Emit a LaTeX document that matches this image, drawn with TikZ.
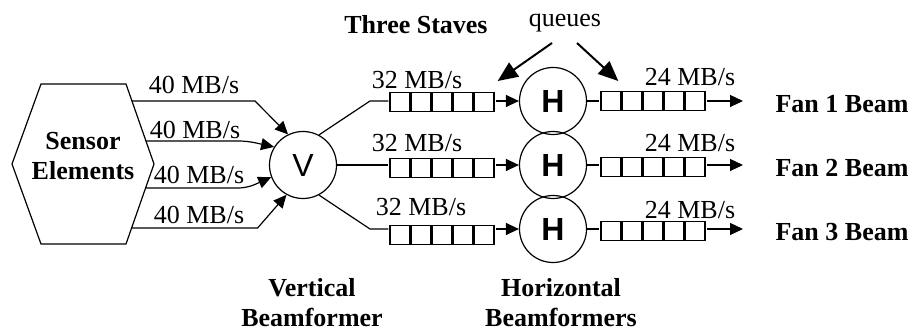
\documentclass[tikz,border=0pt]{standalone}
\usepackage{fontspec}
\setmainfont{Liberation Serif}
\newfontfamily\arialfont{Liberation Sans}
\usetikzlibrary{arrows.meta, matrix, positioning, calc}

\begin{document}
\begin{tikzpicture}[x=1pt,y=-1pt,line width=1.2pt,
rate/.style={font=\fontsize{26}{28}\selectfont, inner sep=0pt},
title/.style={font=\fontsize{26}{30}\selectfont\bfseries, align=center, inner sep=0pt},
bf/.style={circle,draw,minimum size=67pt,inner sep=0pt},
cell/.style={rectangle,draw=black,line width=1.8pt,minimum width=20.4pt,minimum height=19pt},
queue/.style={
        matrix of nodes,nodes={cell},row sep=-\pgflinewidth,column sep=-\pgflinewidth,
        nodes in empty cells,inner sep=0pt,ampersand replacement=\&
    },
flow/.style={-{Triangle[length=13pt,width=12pt]}},
pointer/.style={line width=2pt,-{Triangle[length=20pt,width=17pt]}}]

\useasboundingbox (0,0) rectangle (913,331);

% sensor hexagon
\coordinate (h1) at (41,84);
\coordinate (h2) at (126,84);
\coordinate (h3) at (154,164);
\coordinate (h4) at (126,244);
\coordinate (h5) at (41,244);
\coordinate (h6) at (12,164);
\draw (h1) -- (h2) -- (h3) -- (h4) -- (h5) -- (h6) -- cycle;
\node[title] (sensor) at (83,156) {Sensor\\Elements};

\coordinate (s1) at ($(h2)!0.2125!(h3)$);
\coordinate (s2) at ($(h2)!0.7125!(h3)$);
\coordinate (s3) at ($(h3)!0.3!(h4)$);
\coordinate (s4) at ($(h3)!0.8!(h4)$);

% vertical beamformer
\node[bf, font=\arialfont\fontsize{32}{32}\selectfont] (vbf) at (303,165) {V};

\draw[flow] (s1) -- ++(123,0) -- (vbf.116);
\draw[flow, rounded corners=8pt] (s2) -- (247,141) -- (vbf.148);
\draw[flow, rounded corners=8pt] (s3) -- (247,188) -- (vbf.201);
\draw[flow] (s4) -- ++(126,0) -- (vbf.241);

\node[rate] (in1) at (194,85) {40 MB/s};
\node[rate] (in2) at (195,130) {40 MB/s};
\node[rate] (in3) at (199,175) {40 MB/s};
\node[rate] (in4) at (199,215) {40 MB/s};

% staves
\foreach \r/\y/\a/\b in {1/101/102/101,2/165/168/167,3/229/235/231} {
  \coordinate (kin\r) at (370,\y);
  \node[bf, font=\arialfont\bfseries\fontsize{32}{32}\selectfont] (hbf\r) at (553,\y) {H};
  \matrix (qin\r) [queue] at (442,\a) {\&\&\&\&\\};
  \matrix (qout\r) [queue] at (653,\b) {\&\&\&\&\\};
  \coordinate (out\r) at (743,\y);
  \draw[flow] (qin\r.east |- hbf\r) -- (hbf\r);
  \draw (hbf\r) -- (qout\r.west |- hbf\r);
  \draw[flow] (qout\r.east |- hbf\r) -- (out\r);
  \node[title, anchor=west] (fan\r) at (775,\y+3) {Fan \r{} Beam};
}

\draw (vbf.62) -- (kin1) -- (qin1.west |- kin1);
\draw (vbf) -- (qin2.west |- kin2);
\draw (vbf.-62) -- (kin3) -- (qin3.west |- kin3);

\node[rate] (mid1) at (417,80) {32 MB/s};
\node[rate] (mid2) at (417,143) {32 MB/s};
\node[rate] (mid3) at (421,207) {32 MB/s};
\node[rate] (outr1) at (690,77) {24 MB/s};
\node[rate] (outr2) at (690,143) {24 MB/s};
\node[rate] (outr3) at (690,210) {24 MB/s};

% labels
\node[title] (staves) at (416,25) {Three Staves};
\node[rate, anchor=base] (queues) at (565,27) {queues};
\draw[pointer] ([xshift=-13pt,yshift=-16pt]queues.base) -- ([xshift=2pt,yshift=10pt]qin1.north east);
\draw[pointer] ([xshift=12pt,yshift=-16pt]queues.base) -- ([xshift=19pt,yshift=9pt]qout1.north west);

\node[title] (vlabel) at (312,303) {Vertical\\Beamformer};
\node[title] (hlabel) at (561,303) {Horizontal\\Beamformers};

\end{tikzpicture}
\end{document}
